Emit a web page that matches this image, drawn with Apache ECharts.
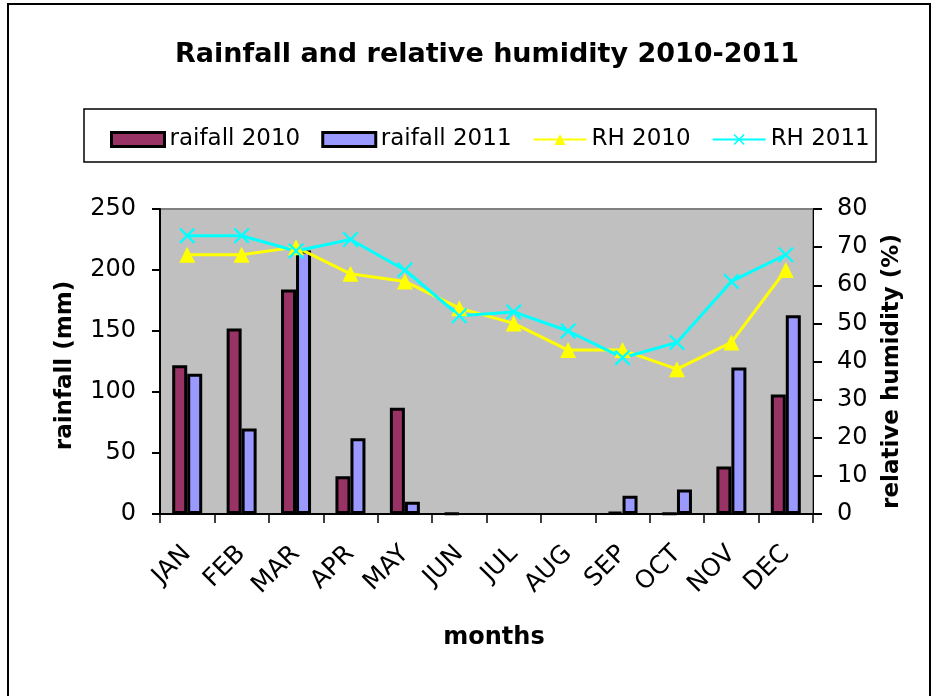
<!DOCTYPE html>
<html>
<head>
<meta charset="utf-8">
<script src="https://cdn.jsdelivr.net/npm/echarts@6/dist/echarts.min.js"></script>
<style>
  html, body { margin: 0; padding: 0; background: #fff; }
  #chart { width: 938px; height: 696px; }
</style>
</head>
<body>
<div id="chart"></div>
<script>
// Monthly rainfall (mm) and relative humidity (%) for 2010 and 2011
const months = ['JAN', 'FEB', 'MAR', 'APR', 'MAY', 'JUN', 'JUL', 'AUG', 'SEP', 'OCT', 'NOV', 'DEC'];
const rainfall2010 = [122, 152, 184, 31, 87, 0.5, 0, 0, 1.5, 0.5, 39, 98];
const rainfall2011 = [115, 70, 216, 62, 10, 0, 0, 0, 15, 20, 120, 163];
const rh2010 = [68, 68, 70, 63, 61, 54, 50, 43, 43, 38, 45, 64];
const rh2011 = [73, 73, 69, 72, 64, 52, 53, 48, 41, 45, 61, 68];

const FONT = 'DejaVu Sans';
const crossSymbol = 'path://M0,1L1,0L5,4L9,0L10,1L6,5L10,9L9,10L5,6L1,10L0,9L4,5Z';

// months without any rain get no outlined bar
const barItems = arr => arr.map(v => v === 0 ? { value: v, itemStyle: { borderWidth: 0 } } : v);

const chart = echarts.init(document.getElementById('chart'), null, { renderer: 'canvas' });

chart.setOption({
  backgroundColor: '#ffffff',
  animation: false,
  title: {
    text: 'Rainfall and relative humidity 2010-2011',
    left: 482,
    textAlign: 'center',
    top: 36,
    textStyle: { fontFamily: FONT, fontWeight: 'bold', fontSize: 27, color: '#000' }
  },
  legend: {
    left: 105,
    top: 123,
    itemWidth: 53,
    itemHeight: 14,
    itemGap: 21,
    textStyle: { fontFamily: FONT, fontSize: 23, color: '#000' },
    data: [
      { name: 'raifall 2010', icon: 'rect', itemStyle: { borderWidth: 3 } },
      { name: 'raifall 2011', icon: 'rect', itemStyle: { borderWidth: 3 } },
      { name: 'RH 2010' },
      { name: 'RH 2011' }
    ]
  },
  graphic: [
    // outer frame
    { type: 'rect', shape: { x: 8, y: 4, width: 922, height: 700 },
      style: { fill: 'none', stroke: '#000', lineWidth: 2 }, silent: true, z: -1 },
    // legend box
    { type: 'rect', shape: { x: 84, y: 109, width: 792, height: 53 },
      style: { fill: 'none', stroke: '#000', lineWidth: 1.5 }, silent: true },
    // x axis title
    { type: 'text', x: 494, y: 638,
      style: { text: 'months', fontFamily: FONT, fontWeight: 'bold', fontSize: 24,
               fill: '#000', align: 'center', verticalAlign: 'middle' } }
  ],
  grid: {
    left: 160, right: 125, top: 209, bottom: 182,
    show: true,
    backgroundColor: '#c0c0c0',
    borderColor: '#808080',
    borderWidth: 2
  },
  xAxis: {
    type: 'category',
    data: months,
    boundaryGap: true,
    axisLine: { lineStyle: { color: '#000', width: 2 } },
    axisTick: { show: true, length: 9, lineStyle: { color: '#000', width: 1.5 } },
    axisLabel: { rotate: 45, margin: 36, fontFamily: FONT, fontSize: 25, color: '#000' },
    splitLine: { show: false }
  },
  yAxis: [
    {
      type: 'value',
      min: 0, max: 250, interval: 50,
      name: 'rainfall (mm)',
      nameLocation: 'middle',
      nameGap: 83,
      nameRotate: 90,
      nameTextStyle: { fontFamily: FONT, fontWeight: 'bold', fontSize: 23, color: '#000', padding: [0, 8, 0, 0] },
      axisLine: { show: true, lineStyle: { color: '#000', width: 2 } },
      axisTick: { show: true, length: 8, lineStyle: { color: '#000', width: 2 } },
      axisLabel: { margin: 24, fontFamily: FONT, fontSize: 24, color: '#000' },
      splitLine: { show: false }
    },
    {
      type: 'value',
      min: 0, max: 80, interval: 10,
      position: 'right',
      name: 'relative humidity (%)',
      nameLocation: 'middle',
      nameGap: 68,
      nameRotate: 90,
      nameTextStyle: { fontFamily: FONT, fontWeight: 'bold', fontSize: 23, color: '#000', padding: [0, 20, 0, 0] },
      axisLine: { show: true, lineStyle: { color: '#000', width: 1 } },
      axisTick: { show: true, length: 9, lineStyle: { color: '#000', width: 2 } },
      axisLabel: { margin: 24, fontFamily: FONT, fontSize: 24, color: '#000' },
      splitLine: { show: false }
    }
  ],
  series: [
    {
      name: 'raifall 2010',
      type: 'bar',
      yAxisIndex: 0,
      data: barItems(rainfall2010),
      barWidth: 15,
      barGap: '0%',
      itemStyle: { color: '#993366', borderColor: '#000', borderWidth: 3 }
    },
    {
      name: 'raifall 2011',
      type: 'bar',
      yAxisIndex: 0,
      data: barItems(rainfall2011),
      barWidth: 15,
      barGap: '0%',
      itemStyle: { color: '#9999ff', borderColor: '#000', borderWidth: 3 }
    },
    {
      name: 'RH 2010',
      type: 'line',
      yAxisIndex: 1,
      data: rh2010,
      symbol: 'triangle',
      symbolSize: 16,
      lineStyle: { color: '#ffff00', width: 3 },
      itemStyle: { color: '#ffff00' }
    },
    {
      name: 'RH 2011',
      type: 'line',
      yAxisIndex: 1,
      data: rh2011,
      symbol: crossSymbol,
      symbolSize: 16,
      lineStyle: { color: '#00ffff', width: 3 },
      itemStyle: { color: '#00ffff' }
    }
  ]
});
</script>
</body>
</html>
